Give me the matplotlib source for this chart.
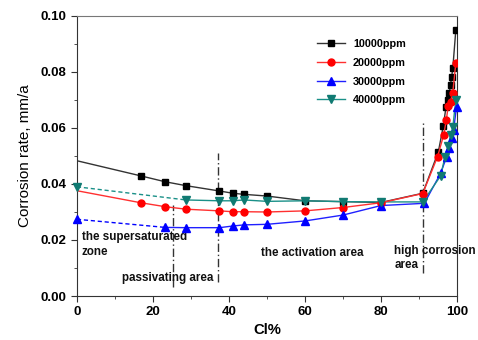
import matplotlib
matplotlib.use("Agg")
import matplotlib.pyplot as plt
from matplotlib.ticker import MultipleLocator

plt.rcParams['font.family'] = ['Liberation Sans', 'DejaVu Sans']

# data (Cl% vs corrosion rate)
x_10000 = [0, 16.8, 23.2, 28.7, 37.5, 41, 44, 50, 60, 70, 80, 91,
           95.1, 96.4, 97.1, 97.7, 98, 98.3, 98.6, 98.9, 99.7]
y_10000 = [0.0483, 0.0429, 0.0408, 0.0394, 0.0375, 0.0367, 0.0363, 0.0357,
           0.0340, 0.0337, 0.0334, 0.0367, 0.0515, 0.0607, 0.0674, 0.0700,
           0.0726, 0.0754, 0.0783, 0.0813, 0.0950]

x_20000 = [0, 16.8, 23.2, 28.7, 37.5, 41, 44, 50, 60, 70, 80, 91,
           94.9, 96.5, 97.2, 97.7, 98.3, 98.9, 99.7]
y_20000 = [0.0376, 0.0333, 0.0319, 0.0310, 0.0304, 0.0301, 0.0301, 0.0300,
           0.0304, 0.0316, 0.0333, 0.0366, 0.0498, 0.0575, 0.0629, 0.0679,
           0.0694, 0.0726, 0.0833]

x_30000 = [0, 23.2, 28.7, 37.5, 41, 44, 50, 60, 70, 80, 91.4,
           95.7, 97.3, 98, 98.6, 99.1, 99.9]
y_30000 = [0.0274, 0.0245, 0.0244, 0.0244, 0.0250, 0.0254, 0.0256, 0.0268,
           0.0289, 0.0323, 0.0331, 0.0438, 0.0498, 0.0527, 0.0563, 0.0593,
           0.0676]

x_40000 = [0, 28.7, 37.5, 41, 44, 50, 60, 70, 80, 91,
           95.7, 96.8, 97.7, 98.3, 98.9, 99.7]
y_40000 = [0.0390, 0.0343, 0.0340, 0.0340, 0.0343, 0.0338, 0.0340, 0.0337,
           0.0336, 0.0336, 0.0429, 0.0495, 0.0536, 0.0575, 0.0602, 0.0700]

fig = plt.figure(figsize=(4.78, 3.40), dpi=100)
ax = fig.add_axes([0.161, 0.1294, 0.795, 0.8236])

# 10000ppm and 20000ppm: solid from x=0, no marker at x=0
ax.plot(x_10000, y_10000, color='#333333', lw=1, marker='s', ms=4.2,
        mfc='black', mec='black', markevery=list(range(1, len(x_10000))),
        label='10000ppm', zorder=3)
ax.plot(x_20000, y_20000, color='#ff3030', lw=1, marker='o', ms=5,
        mfc='red', mec='red', markevery=list(range(1, len(x_20000))),
        label='20000ppm', zorder=4)

# 30000ppm and 40000ppm: dashed first segment
ax.plot(x_30000[:2], y_30000[:2], color='blue', lw=1, ls=(0, (3, 2)), zorder=3)
ax.plot(x_30000[1:], y_30000[1:], color='#2020ff', lw=1, zorder=3)
ax.plot(x_30000, y_30000, ls='none', marker='^', ms=5.3, color='blue',
        clip_on=False, zorder=5)
ax.plot(x_40000[:2], y_40000[:2], color='#1a9088', lw=1, ls=(0, (3, 2)), zorder=3)
ax.plot(x_40000[1:], y_40000[1:], color='#1a9088', lw=1, zorder=3)
ax.plot(x_40000, y_40000, ls='none', marker='v', ms=5.3, color='#107a72',
        clip_on=False, zorder=5)

# legend handles for the dashed series
ax.plot([], [], color='#2020ff', lw=1, marker='^', ms=5.3, mfc='blue',
        mec='blue', label='30000ppm')
ax.plot([], [], color='#1a9088', lw=1, marker='v', ms=5.3, mfc='#107a72',
        mec='#107a72', label='40000ppm')

# zone separators
dd = (0, (6, 2, 1, 2))
ax.plot([25.2, 25.2], [0.0032, 0.0325], color='#333333', lw=1, ls=dd)
ax.plot([37.2, 37.2], [0.005, 0.051], color='#333333', lw=1, ls=dd)
ax.plot([91, 91], [0.0082, 0.0618], color='#333333', lw=1, ls=dd)

tkw = dict(fontsize=8.4, fontweight='bold', color='#111111')
ax.text(1.2, 0.0184, 'the supersaturated\nzone', va='center', ha='left',
        linespacing=1.25, **tkw)
ax.text(11.8, 0.0064, 'passivating area', va='center', ha='left', **tkw)
ax.text(48.5, 0.0154, 'the activation area', va='center', ha='left', **tkw)
ax.text(83.5, 0.0135, 'high corrosion\narea', va='center', ha='left',
        linespacing=1.25, **tkw)

ax.set_xlim(0, 100)
ax.set_ylim(0, 0.1)
ax.xaxis.set_major_locator(MultipleLocator(20))
ax.xaxis.set_minor_locator(MultipleLocator(10))
ax.yaxis.set_major_locator(MultipleLocator(0.02))
ax.yaxis.set_minor_locator(MultipleLocator(0.01))
ax.set_yticks([0, 0.02, 0.04, 0.06, 0.08, 0.10])
ax.set_yticklabels(['0.00', '0.02', '0.04', '0.06', '0.08', '0.10'])
ax.tick_params(which='both', direction='out', top=False, right=False,
               labelsize=9.5, color='#333333')
ax.tick_params(which='major', length=4)
ax.tick_params(which='minor', length=2.5)
for lab in ax.get_xticklabels() + ax.get_yticklabels():
    lab.set_fontweight('bold')
for s in ['left', 'bottom', 'right']:
    ax.spines[s].set_color('#333333')
ax.spines['top'].set_color('#777777')

ax.set_xlabel('Cl%', fontsize=10.7, fontweight='bold', labelpad=3)
ax.set_ylabel('Corrosion rate, mm/a', fontsize=11, labelpad=6)

ax.legend(loc='upper left', bbox_to_anchor=(0.605, 0.952), frameon=False,
          prop={'size': 7.8, 'weight': 'bold'}, handlelength=2.6,
          labelspacing=0.8, handletextpad=0.75)

fig.savefig('out.png', dpi=100)
